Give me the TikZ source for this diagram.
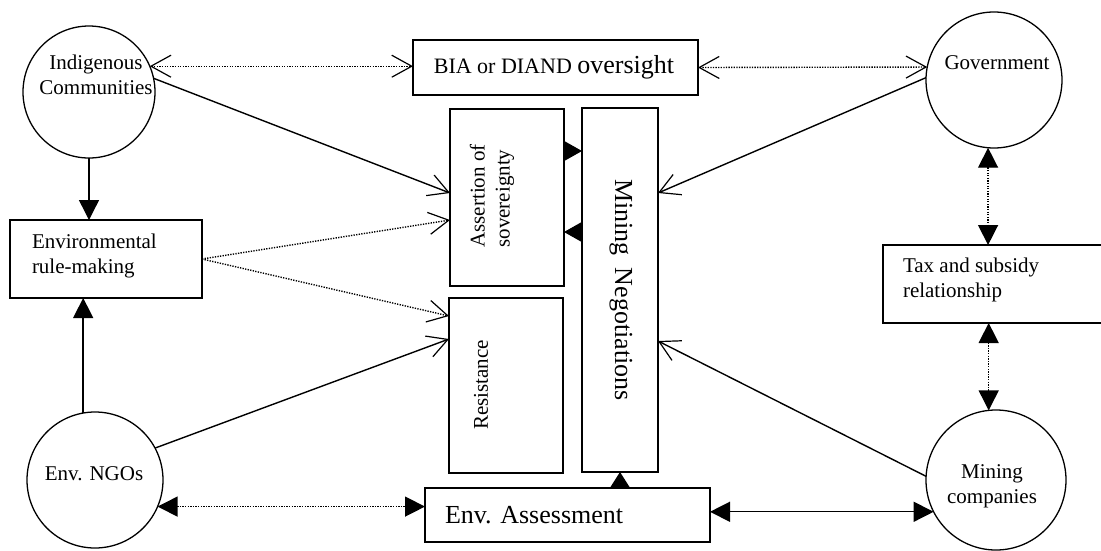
\documentclass[tikz,border=0pt]{standalone}
\usepackage{fontspec}
\setmainfont{Liberation Serif}
\usetikzlibrary{arrows.meta}
\tikzset{
  barb/.tip={Straight Barb[length=20pt,width=22pt,line width=1.2pt]},
  tri/.tip={Triangle[length=20pt,width=20pt]}
}
\begin{document}
\begin{tikzpicture}[x=1pt,y=-1pt,
  every node/.style={inner sep=0pt, outer sep=0pt},
  actor/.style={draw, circle, line width=1.3pt, minimum size=#1},
  box/.style={draw, rectangle, line width=1.2pt},
  lab/.style={font=\fontsize{21}{25}\selectfont, align=center},
  big/.style={font=\fontsize{26}{30}\selectfont},
  flow/.style={line width=1.4pt, -{barb}},
  hint/.style={line width=1.4pt, dash pattern=on 1.3pt off 1.3pt},
  hintflow/.style={hint, -{barb}},
  link/.style={hint, {tri}-{tri}},
  push/.style={line width=1.4pt, -{tri}}
]
\clip (0,0) rectangle (1101,550);

% actors
\node[actor=132pt] (ind) at (89,92) {};
\node[actor=136pt] (gov) at (994,80) {};
\node[actor=136pt] (ngo) at (95,480) {};
\node[actor=140pt] (mcomp) at (996,480) {};

% boxes
\node[box, minimum width=285pt, minimum height=55pt] (bia) at (555.5,67.5) {};
\node[box, minimum width=114pt, minimum height=177pt] (asrt) at (507,197.5) {};
\node[box, minimum width=76pt, minimum height=364pt] (mneg) at (620,290) {};
\node[box, minimum width=114pt, minimum height=175pt] (resist) at (506,385.5) {};
\node[box, minimum width=285pt, minimum height=54pt] (envas) at (567.5,515) {};
\node[box, minimum width=192pt, minimum height=78pt] (rule) at (106,259) {};
\node[box, minimum width=222pt, minimum height=78pt] (tax) at (994,284) {};

% labels
\node[lab] (indlab) at (96,75) {Indigenous\\Communities};
\node[lab] (govlab) at (997,63) {Government};
\node[lab] (ngolab) at (94,474) {Env. NGOs};
\node[lab] (mclab) at (992,486) {Mining\\companies};
\node (bialab) at (554,67) {\fontsize{22}{26}\selectfont BIA or DIAND \fontsize{26}{30}\selectfont oversight};
\node[lab, rotate=90, align=left] (asrtlab) at (492,196) {Assertion of\\sovereignty};
\node[big, rotate=-90] (mneglab) at (621,290) {Mining\hspace{12pt}Negotiations};
\node[lab, rotate=90] (reslab) at (481,385) {Resistance};
\node[lab, anchor=west, align=left] (rulelab) at (32,256) {Environmental\\rule-making};
\node[lab, anchor=west, align=left] (taxlab) at (903,280) {Tax and subsidy\\relationship};
\node[big, anchor=west] (envlab) at (445,515) {Env. Assessment};

% oversight links
\draw[hint, {barb}-{barb}] (ind.23) -- (ind.23 -| bia.west);
\draw[hint, {barb}-{barb}] (bia.east) -- (gov.169);

% influence on sovereignty, resistance and negotiations
\draw[flow] (ind.12) -- ([yshift=-84pt]asrt.north west);
\draw[flow] (gov.178) -- ([yshift=-85pt]mneg.north east);
\draw[hintflow] (rule.east) -- ([yshift=-111pt]asrt.north west);
\draw[hintflow] (rule.east) -- ([yshift=-18pt]resist.north west);
\draw[flow] (ngo.28) -- ([yshift=-41pt]resist.north west);
\draw[flow] (mcomp.177) -- ([yshift=-233pt]mneg.north east);

% rule-making inputs
\draw[push] (ind.south) -- (ind.south |- rule.north);
\draw[push] (ngo.100) -- (ngo.100 |- rule.south);

% sovereignty <-> negotiations
\coordinate (a1) at ([yshift=-42pt]asrt.north east);
\coordinate (a2) at ([yshift=-123pt]asrt.north east);
\draw[line width=1.2pt, -{Triangle[length=18pt,width=20pt]}] (a1) -- (a1 -| mneg.west);
\draw[line width=1.2pt, -{Triangle[length=18pt,width=20pt]}] (a2 -| mneg.west) -- (a2);

% assessment
\draw[line width=1.2pt, -{Triangle[length=16pt,width=20pt]}] (mneg.south |- envas.north) -- (mneg.south);
\draw[link] (ngo.-23) -- (ngo.-23 -| envas.west);
\draw[line width=1.4pt, {tri}-{tri}] (mcomp.207 -| envas.east) -- (mcomp.207);

% fiscal relationship
\draw[link] (gov.-95) -- (gov.-95 |- tax.north);
\draw[link] (tax.south -| mcomp.96) -- (mcomp.96);
\end{tikzpicture}
\end{document}
